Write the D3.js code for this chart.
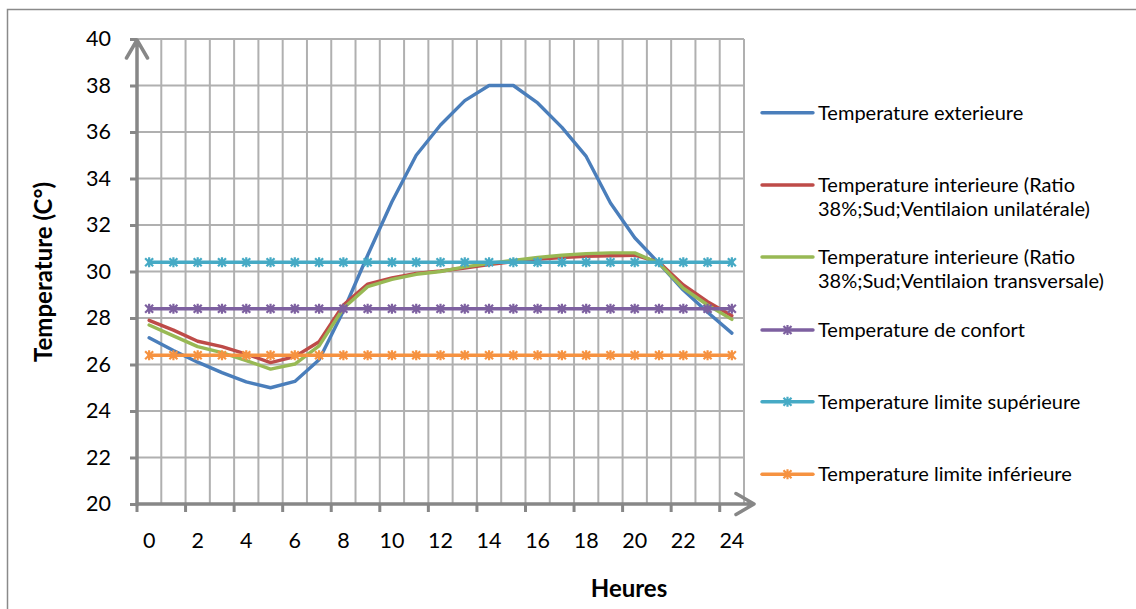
<!DOCTYPE html>
<html>
<head>
<meta charset="utf-8">
<script src="https://cdn.jsdelivr.net/npm/d3@7"></script>
<style>
  html, body { margin: 0; padding: 0; background: #fff; }
  svg { display: block; }
  text { font-family: Lato, "Open Sans", sans-serif; fill: #000; }
</style>
</head>
<body>
<svg id="chart" width="1136" height="609"></svg>
<script>
// Hours of the day (categories)
const hours = [0, 1, 2, 3, 4, 5, 6, 7, 8, 9, 10, 11, 12, 13, 14, 15, 16, 17, 18, 19, 20, 21, 22, 23, 24];

// Temperatures (°C)
const tempExterieure = [27.15, 26.6, 26.1, 25.65, 25.25, 25.0, 25.27, 26.2, 28.3, 30.7, 33.0, 35.0, 36.3, 37.35, 38.0, 38.0, 37.25, 36.2, 34.95, 32.95, 31.45, 30.35, 29.2, 28.25, 27.35];
const tempUnilaterale = [27.9, 27.48, 27.0, 26.77, 26.45, 26.08, 26.34, 26.98, 28.56, 29.46, 29.72, 29.92, 30.02, 30.15, 30.3, 30.42, 30.52, 30.6, 30.65, 30.68, 30.7, 30.4, 29.42, 28.7, 28.1];
const tempTransversale = [27.7, 27.23, 26.77, 26.51, 26.17, 25.8, 26.02, 26.8, 28.42, 29.35, 29.66, 29.88, 30.0, 30.2, 30.35, 30.48, 30.6, 30.7, 30.77, 30.8, 30.8, 30.35, 29.28, 28.56, 27.94];
const tempConfort = [28.4, 28.4, 28.4, 28.4, 28.4, 28.4, 28.4, 28.4, 28.4, 28.4, 28.4, 28.4, 28.4, 28.4, 28.4, 28.4, 28.4, 28.4, 28.4, 28.4, 28.4, 28.4, 28.4, 28.4, 28.4];
const tempLimiteSup = [30.4, 30.4, 30.4, 30.4, 30.4, 30.4, 30.4, 30.4, 30.4, 30.4, 30.4, 30.4, 30.4, 30.4, 30.4, 30.4, 30.4, 30.4, 30.4, 30.4, 30.4, 30.4, 30.4, 30.4, 30.4];
const tempLimiteInf = [26.4, 26.4, 26.4, 26.4, 26.4, 26.4, 26.4, 26.4, 26.4, 26.4, 26.4, 26.4, 26.4, 26.4, 26.4, 26.4, 26.4, 26.4, 26.4, 26.4, 26.4, 26.4, 26.4, 26.4, 26.4];

// Axis ticks
const yTicks = [20, 22, 24, 26, 28, 30, 32, 34, 36, 38, 40];
const xTickLabels = [0, 2, 4, 6, 8, 10, 12, 14, 16, 18, 20, 22, 24];

// Legend labels (each entry may span several lines)
const seriesNames = [
  ["Temperature exterieure"],
  ["Temperature interieure (Ratio", "38%;Sud;Ventilaion unilatérale)"],
  ["Temperature interieure (Ratio", "38%;Sud;Ventilaion transversale)"],
  ["Temperature de confort"],
  ["Temperature limite supérieure"],
  ["Temperature limite inférieure"]
];

const series = [
  { values: tempExterieure, color: "#4A7EBB", marker: false },
  { values: tempUnilaterale, color: "#BE4B48", marker: false },
  { values: tempTransversale, color: "#98B954", marker: false },
  { values: tempConfort, color: "#7D60A0", marker: true },
  { values: tempLimiteSup, color: "#46AAC5", marker: true },
  { values: tempLimiteInf, color: "#F69240", marker: true }
];

const svg = d3.select("#chart");

// Chart area frame
svg.append("rect")
  .attr("x", 7.5).attr("y", 9.5)
  .attr("width", 1160).attr("height", 640)
  .attr("fill", "none").attr("stroke", "#8a8a8a").attr("stroke-width", 1.5);

const plot = { left: 137, right: 744, top: 39, bottom: 504 };

const x = d3.scaleBand().domain(hours).range([plot.left, plot.right]).padding(0);
const y = d3.scaleLinear().domain([20, 40]).range([plot.bottom, plot.top]);
const cx = h => x(h) + x.bandwidth() / 2;

// Gridlines
const grid = svg.append("g").attr("stroke", "#b0b0b0").attr("stroke-width", 2);
yTicks.filter(v => v > 20).forEach(v => {
  grid.append("line")
    .attr("x1", plot.left).attr("x2", plot.right)
    .attr("y1", y(v)).attr("y2", y(v));
});
hours.forEach(h => {
  const xb = x(h) + x.bandwidth();
  grid.append("line")
    .attr("x1", xb).attr("x2", xb)
    .attr("y1", plot.top).attr("y2", plot.bottom);
});

// Y axis ticks and labels
const yAxis = d3.axisLeft(y).tickValues(yTicks).tickSize(7).tickPadding(19);
const gy = svg.append("g").attr("transform", `translate(${plot.left},0)`).call(yAxis);
gy.select(".domain").remove();
gy.selectAll(".tick line").attr("stroke", "#878787").attr("stroke-width", 3);
gy.selectAll(".tick text").attr("font-size", 21.5).attr("font-family", "Lato").attr("fill", "#000");

// X axis labels at category centres
const xAxis = d3.axisBottom(x).tickValues(xTickLabels).tickSize(0).tickPadding(29);
const gx = svg.append("g").attr("transform", `translate(0,${plot.bottom})`).call(xAxis);
gx.select(".domain").remove();
gx.selectAll(".tick text").attr("font-size", 21.5).attr("font-family", "Lato").attr("fill", "#000");

// X tick marks between categories, every two hours
xTickLabels.forEach(h => {
  svg.append("line")
    .attr("x1", x(h)).attr("x2", x(h))
    .attr("y1", plot.bottom).attr("y2", plot.bottom + 8)
    .attr("stroke", "#878787").attr("stroke-width", 3);
});

// Axis lines with open arrowheads
const axisStyle = sel => sel.attr("fill", "none").attr("stroke", "#878787")
  .attr("stroke-width", 3.5).attr("stroke-linecap", "round").attr("stroke-linejoin", "round");
svg.append("path").call(axisStyle)
  .attr("d", `M${plot.left},${plot.bottom + 1}V${plot.top + 1}M${plot.left - 10.5},${plot.top + 19}L${plot.left},${plot.top + 1}L${plot.left + 10.5},${plot.top + 19}`);
svg.append("path").call(axisStyle)
  .attr("d", `M${plot.left},${plot.bottom}H${plot.right + 10}M${plot.right - 8},${plot.bottom - 10.5}L${plot.right + 10},${plot.bottom}L${plot.right - 8},${plot.bottom + 10.5}`);

// Series lines
const line = d3.line().x((d, i) => cx(hours[i])).y(d => y(d));
const starPath = "M-4,-4L4,4M-4,4L4,-4M0,-5L0,5";

series.forEach(s => {
  svg.append("path")
    .datum(s.values)
    .attr("fill", "none")
    .attr("stroke", s.color)
    .attr("stroke-width", 3.4)
    .attr("stroke-linejoin", "round")
    .attr("stroke-linecap", "round")
    .attr("d", line);
  if (s.marker) {
    svg.append("g").selectAll("path")
      .data(s.values)
      .join("path")
      .attr("transform", (d, i) => `translate(${cx(hours[i])},${y(d)})`)
      .attr("d", starPath)
      .attr("fill", "none")
      .attr("stroke", s.color)
      .attr("stroke-width", 2.2);
  }
});

// Axis titles
svg.append("text")
  .attr("transform", "translate(52,272) rotate(-90)")
  .attr("text-anchor", "middle")
  .attr("font-size", 24).attr("font-weight", "bold")
  .text("Temperature (C°)");
svg.append("text")
  .attr("x", 629).attr("y", 597)
  .attr("text-anchor", "middle")
  .attr("font-size", 24).attr("font-weight", "bold")
  .text("Heures");

// Legend
const legendY = [112.7, 185, 257, 330, 401.7, 474.3];
const legend = svg.append("g");
series.forEach((s, i) => {
  const g = legend.append("g").attr("transform", `translate(0,${legendY[i]})`);
  g.append("line")
    .attr("x1", 762).attr("x2", 813).attr("y1", 0).attr("y2", 0)
    .attr("stroke", s.color).attr("stroke-width", 3.4).attr("stroke-linecap", "round");
  if (s.marker) {
    g.append("path").attr("transform", "translate(787.5,0)")
      .attr("d", starPath).attr("fill", "none")
      .attr("stroke", s.color).attr("stroke-width", 2.2);
  }
  const t = g.append("text").attr("x", 818).attr("y", 0).attr("font-size", 20);
  seriesNames[i].forEach((ln, j) => {
    t.append("tspan").attr("x", 818).attr("dy", j === 0 ? "0.35em" : 24.3).text(ln);
  });
});
</script>
</body>
</html>
